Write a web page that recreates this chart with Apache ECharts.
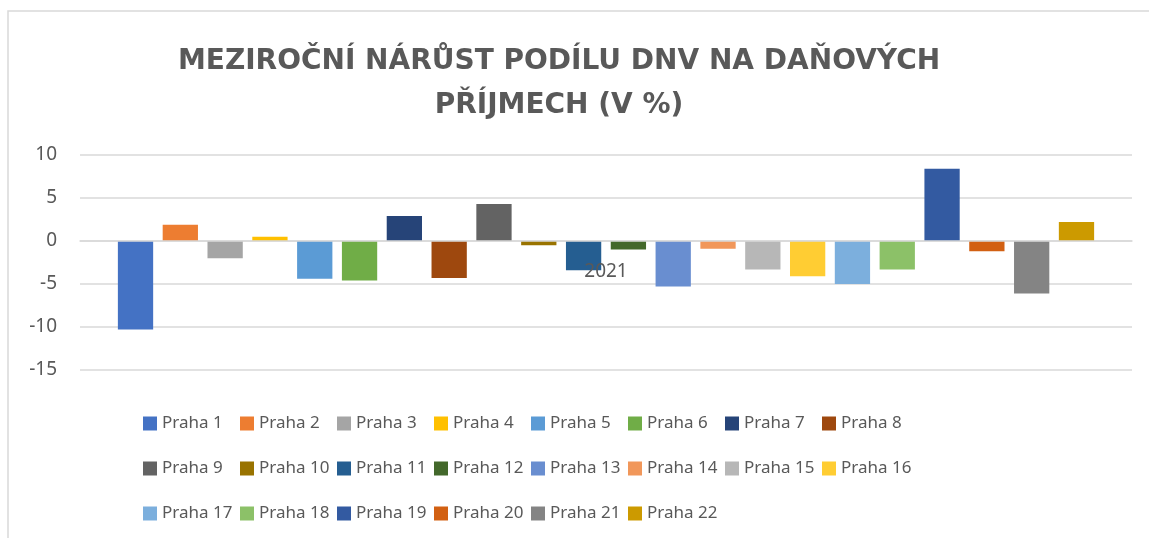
<!DOCTYPE html>
<html>
<head>
<meta charset="utf-8">
<script src="https://cdn.jsdelivr.net/npm/echarts@6/dist/echarts.min.js"></script>
<style>
  html, body { margin: 0; padding: 0; background: #fff; }
  #chart { width: 1149px; height: 538px; }
</style>
</head>
<body>
<div id="chart"></div>
<script>
// data
var years = ['2021'];
var districts = ['Praha 1', 'Praha 2', 'Praha 3', 'Praha 4', 'Praha 5', 'Praha 6', 'Praha 7', 'Praha 8',
  'Praha 9', 'Praha 10', 'Praha 11', 'Praha 12', 'Praha 13', 'Praha 14', 'Praha 15', 'Praha 16',
  'Praha 17', 'Praha 18', 'Praha 19', 'Praha 20', 'Praha 21', 'Praha 22'];
var growth = [-10.3, 1.9, -2.0, 0.5, -4.4, -4.6, 2.9, -4.3,
  4.3, -0.5, -3.4, -1.0, -5.3, -0.9, -3.3, -4.1,
  -5.0, -3.3, 8.4, -1.2, -6.1, 2.2];
var colors = ['#4472C4', '#ED7D31', '#A5A5A5', '#FFC000', '#5B9BD5', '#70AD47', '#264478', '#9E480E',
  '#636363', '#997300', '#255E91', '#43682B', '#698ED0', '#F1975A', '#B7B7B7', '#FFCD33',
  '#7CAFDD', '#8CC168', '#335AA1', '#D26012', '#848484', '#CC9A00'];
var yMin = -15, yMax = 10, yStep = 5;

var chart = echarts.init(document.getElementById('chart'));

var series = districts.map(function (name, i) {
  return {
    name: name,
    type: 'bar',
    data: [growth[i]],
    barGap: '27%',
    barCategoryGap: '7.2%',
    itemStyle: { color: colors[i] }
  };
});

// plot area: 155..370 px, category axis sits on the 0 line
var plotTop = 155, plotBottom = 370;
var zeroOffset = (plotBottom - plotTop) * (0 - yMin) / (yMax - yMin);

var option = {
  animation: false,
  color: colors,
  title: {
    text: 'MEZIROČNÍ NÁRŮST PODÍLU DNV NA DAŇOVÝCH\nPŘÍJMECH (V %)',
    left: 554,
    top: 35,
    textAlign: 'center',
    textStyle: {
      fontFamily: 'DejaVu Sans',
      fontWeight: 'bold',
      fontSize: 28,
      lineHeight: 44,
      color: '#595959'
    }
  },
  graphic: [{
    type: 'rect',
    shape: { x: 8, y: 11, width: 1200, height: 600 },
    style: { fill: 'none', stroke: '#d9d9d9', lineWidth: 1.5 },
    silent: true
  }],
  grid: { left: 80, right: 17, top: plotTop, bottom: 538 - plotBottom, containLabel: false },
  xAxis: {
    type: 'category',
    data: years,
    z: 3,
    offset: -zeroOffset,
    axisLine: { onZero: false, lineStyle: { color: '#d9d9d9', width: 1.5 } },
    axisTick: { show: false },
    axisLabel: {
      margin: 21,
      fontFamily: 'Noto Sans',
      fontSize: 19,
      color: '#595959'
    }
  },
  yAxis: {
    type: 'value',
    min: yMin,
    max: yMax,
    interval: yStep,
    axisLine: { show: false },
    axisTick: { show: false },
    axisLabel: {
      margin: 23,
      fontFamily: 'Noto Sans',
      fontSize: 19,
      color: '#595959'
    },
    splitLine: { lineStyle: { color: '#d9d9d9', width: 1.5 } }
  },
  legend: {
    left: 138,
    top: 399,
    width: 780,
    itemWidth: 14,
    itemHeight: 14,
    itemGap: 6,
    icon: 'rect',
    textStyle: {
      fontFamily: 'Noto Sans',
      fontSize: 17,
      color: '#595959',
      width: 72,
      lineHeight: 39
    },
    data: districts
  },
  series: series
};

chart.setOption(option);
</script>
</body>
</html>
